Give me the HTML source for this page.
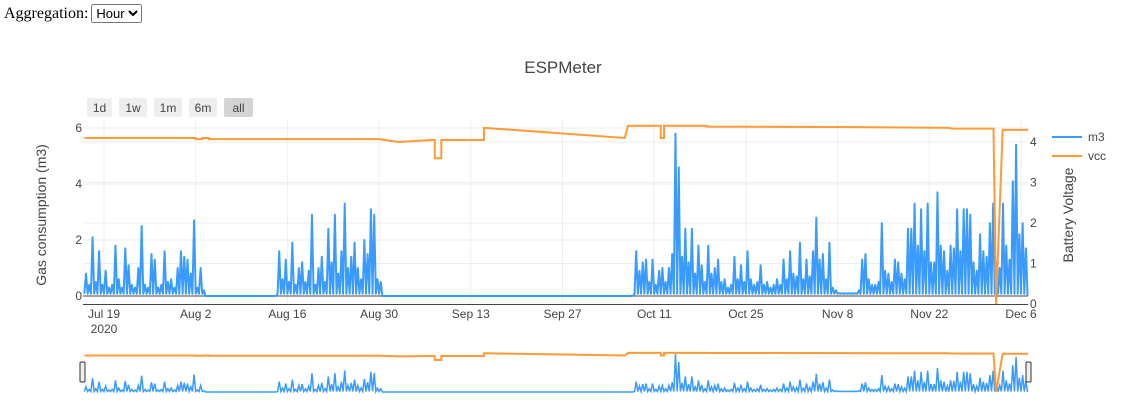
<!DOCTYPE html>
<html><head><meta charset="utf-8"><style>
body{margin:0;width:1127px;height:409px;background:#fff;overflow:hidden;font-family:"Liberation Serif",serif}
#agg{position:absolute;left:4px;top:4px;font-size:16px;color:#000}
#agg select{font-size:13px;font-family:"Liberation Sans",sans-serif;margin-left:3px}
svg{position:absolute;left:0;top:0}
svg text{font-family:"Liberation Sans",sans-serif}
</style></head><body>
<div id="agg">Aggregation:<select><option>Hour</option></select></div>
<svg id="c" width="1127" height="409"></svg>
<script>
const startDate = "2020-07-16";
const m3Values = [
0.8,0.4,2.1,0.5,1.6,0.4,0.9,0.3,0.4,1.8,0.6,0.3,1.7,1.1,0.4,0.3,1.0,2.5,0.4,0.3,1.5,1.3,0.3,0.4,1.6,0.5,0.6,0.3,1.0,1.6,1.4,1.3,0.8,2.7,0.3,1.0,0.2,0,
0,0,0,0,0,0,0,0,0,0,0,0,0,0,0,0,0,0,0,0,0,
1.6,0.6,1.3,0.5,1.9,0.4,1.0,1.2,0.5,0.9,2.9,0.4,1.0,1.4,0.5,2.4,1.2,2.9,0.8,1.6,3.3,1.0,1.4,1.9,1.0,0.6,2.0,1.5,3.1,2.9,0.6,0.5,
0,0,0,0,0,0,0,0,0,0,0,0,0,0,0,0,0,0,0,0,0,0,0,0,0,0,0,0,0,0,0,0,0,0,0,0,0,0,0,0,0,0,0,0,0,0,0,0,0,0,0,0,0,0,0,0,0,0,0,0,0,0,0,0,0,0,0,0,0,0,0,0,0,0,0,0,0,
1.6,0.9,1.2,1.3,0.5,1.3,
0.4,0.9,1.0,0.5,1.0,1.5,5.8,4.6,
1.4,2.4,1.2,2.4,0.8,1.8,1.1,0.5,
1.8,0.8,1.0,1.3,0.5,0.6,0.3,0.4,
1.4,0.6,1.1,0.5,1.6,0.6,0.4,0.5,
1.1,0.4,0.5,0.3,0.4,0.6,0.4,1.3,
0.6,1.6,0.8,0.7,1.9,0.6,1.3,0.7,
1.6,2.8,1.3,1.5,0.6,1.9,0.3,0.2,
0.1,0.1,0.1,0.1,0.1,0.1,0.2,1.3,
1.5,0.6,0.4,0.4,0.5,2.6,0.9,0.8,
0.5,1.3,1.2,0.8,0.6,2.4,2.4,3.3,
1.8,3.1,1.6,3.3,1.2,1.2,3.7,1.8,
1.6,0.9,1.8,1.7,3.1,1.6,3.1,3.1,
2.9,1.2,0.9,2.2,1.6,1.4,2.6,3.3,
1.2,1.0,3.3,1.8,1.3,4.1,5.4,2.2,
2.6,1.7];
const vccDates = ["2020-07-16","2020-08-02","2020-08-02","2020-08-03","2020-08-03","2020-08-04","2020-08-04","2020-08-30","2020-09-02","2020-09-07","2020-09-07.5","2020-09-07.5","2020-09-08.5","2020-09-08.5","2020-09-15","2020-09-15","2020-10-06.5","2020-10-07","2020-10-12","2020-10-12","2020-10-12.5","2020-10-12.5","2020-10-19","2020-10-19","2020-11-08","2020-11-25","2020-11-25.5","2020-12-01.8","2020-12-02.2","2020-12-03.2","2020-12-07.1"];
const vccValues = [4.1,4.1,4.07,4.07,4.1,4.1,4.07,4.07,4.0,4.05,4.05,3.6,3.6,4.05,4.05,4.35,4.1,4.4,4.4,4.1,4.1,4.4,4.4,4.38,4.37,4.35,4.33,4.33,0,4.3,4.3];
const xTickLabels = ["Jul 19","Aug 2","Aug 16","Aug 30","Sep 13","Sep 27","Oct 11","Oct 25","Nov 8","Nov 22","Dec 6"];
const yLeftTicks = [0,2,4,6];
const yRightTicks = [0,1,2,3,4];

const svg=document.getElementById('c');
const NS='http://www.w3.org/2000/svg';
function el(t,a,p){const e=document.createElementNS(NS,t);for(const k in a)e.setAttribute(k,a[k]);(p||svg).appendChild(e);return e;}
const ref=Date.UTC(2020,6,19);
function dayOf(s){const p=s.split('-');const d=parseFloat(p[2]);return (Date.UTC(+p[0],+p[1]-1,1)-ref)/864e5+d-1;}
const X0=83,X1=1028;
function x(d){return Math.min(X1,104+d*6.55);}
function yL(v){return 296-v*28;}
function yR(v){return 304-v*40.5;}
function ysM(v){return 392-v*6.5;}
function ysV(v){return 392-v*8.9;}
const d0=dayOf(startDate);

yLeftTicks.forEach(v=>{if(v>0){const g=el('line',{x1:X0,x2:X1,y1:yL(v),y2:yL(v),stroke:'#eee'});}});
yRightTicks.forEach(v=>{if(v>0){const g=el('line',{x1:X0,x2:X1,y1:yR(v),y2:yR(v),stroke:'#eee'});}});
xTickLabels.forEach((l,i)=>{const xx=x(i*14);
 const g=el('line',{x1:xx,x2:xx,y1:120,y2:304,stroke:'#eee'});
 const t=el('text',{x:xx,y:318,'text-anchor':'middle','font-size':12,fill:'#444'});t.textContent=l;});
const yr=el('text',{x:104,y:333,'text-anchor':'middle','font-size':12,fill:'#444'});yr.textContent='2020';

yLeftTicks.forEach(v=>{const t=el('text',{x:82,y:yL(v)+4,'text-anchor':'end','font-size':12,fill:'#444'});t.textContent=v;});
yRightTicks.forEach(v=>{const t=el('text',{x:1030,y:yR(v)+4,'font-size':12,fill:'#444'});t.textContent=v;});
const zl=el('line',{x1:X0,x2:X1,y1:296,y2:296,stroke:'#444','stroke-width':1});
const ax=el('line',{x1:X0,x2:X1,y1:304.5,y2:304.5,stroke:'#444'});

function m3Path(fx,fy){let pts=[];m3Values.forEach((v,i)=>{const d=d0+i*0.5;const b=v>0?0.08:0;pts.push(fx(d)+','+fy(b));pts.push(fx(d+0.25)+','+fy(v));});
 pts.push(fx(d0+m3Values.length*0.5)+','+fy(0));return pts.join(' ');}
function vccPath(fx,fy){return vccDates.map((s,i)=>fx(dayOf(s))+','+fy(vccValues[i])).join(' ');}
const m3=el('polyline',{points:m3Path(x,yL),fill:'none',stroke:'#3a9bff','stroke-width':2,'stroke-linejoin':'round'});

const vc=el('polyline',{points:vccPath(x,yR),fill:'none',stroke:'#ff9a35','stroke-width':2});


const rs=el('rect',{x:X0,y:347,width:X1-X0,height:48,fill:'#fff'});
const sm=el('polyline',{points:m3Path(x,ysM),fill:'none',stroke:'#3a9bff','stroke-width':1.5});
const sv=el('polyline',{points:vccPath(x,ysV),fill:'none',stroke:'#ff9a35','stroke-width':2});
[X0-3,X1-2].forEach(hx=>{const h=el('rect',{x:hx,y:362,width:5,height:20,fill:'#eee',stroke:'#333','stroke-width':1,rx:1});});

const ti=el('text',{x:563,y:73,'text-anchor':'middle','font-size':17,fill:'#444'});ti.textContent='ESPMeter';
[['1d',87,25],['1w',119,28],['1m',154,28],['6m',189,28],['all',224,29]].forEach((b,i)=>{
 const r=el('rect',{x:b[1],y:98,width:b[2],height:19,fill:i==4?'#d4d4d4':'#eee',rx:2});
 const t=el('text',{x:b[1]+b[2]/2,y:112,'text-anchor':'middle','font-size':12,fill:'#444'});t.textContent=b[0];});
const lt=el('text',{x:46,y:215,'text-anchor':'middle','font-size':14,fill:'#444',transform:'rotate(-90 46 215)'});lt.textContent='Gas consumption (m3)';
const rt=el('text',{x:1073,y:215,'text-anchor':'middle','font-size':14,fill:'#444',transform:'rotate(-90 1073 215)'});rt.textContent='Battery Voltage';
[['m3','#3a9bff',137],['vcc','#ff9a35',156]].forEach(l=>{
 const g=el('g',{});
 el('line',{x1:1052,x2:1082,y1:l[2],y2:l[2],stroke:l[1],'stroke-width':2},g);
 const t=el('text',{x:1088,y:l[2]+4,'font-size':12,fill:'#444'},g);t.textContent=l[0];});
</script></body></html>
